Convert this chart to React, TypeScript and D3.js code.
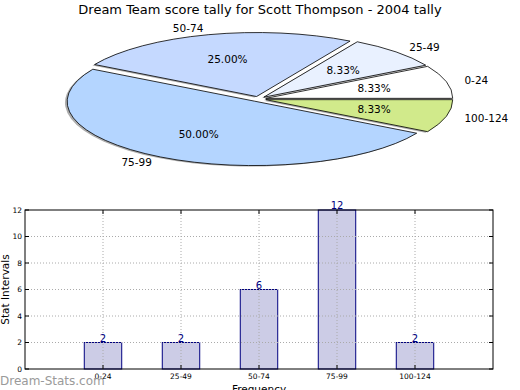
import React from 'react';
import * as d3 from 'd3';

const width = 520;
const height = 390;
const font = 'DejaVu Sans, sans-serif';

// data
const categories = ['0-24', '25-49', '50-74', '75-99', '100-124'];
const counts = [2, 2, 6, 12, 2];
const pieColors = ['#ffffff', '#e9f1ff', '#c5d9ff', '#b4d5ff', '#d1ea8b'];
const yTicks = [0, 2, 4, 6, 8, 10, 12];

// pie geometry
const cx = 258.5;
const cy = 99;
const rx = 187;
const ry = 64;
const explode = 0.04;

// bar chart frame
const margin = { top: 210, right: 27, bottom: 21, left: 25 };

const App = () => {
  const total = d3.sum(counts);
  const pie = d3.pie<number>()
    .sort(null)
    .startAngle(Math.PI / 2)
    .endAngle(Math.PI / 2 - 2 * Math.PI);
  const arcs = pie(counts);
  const arc = d3.arc<any>().innerRadius(0).outerRadius(1);

  const slices = arcs.map((a, i) => {
    const m = (a.startAngle + a.endAngle) / 2;
    const s = Math.sin(m);
    const c = Math.cos(m);
    const ox = rx * explode * s;
    const oy = -ry * explode * c;
    return {
      path: arc(a) as string,
      fill: pieColors[i],
      ox,
      oy,
      label: categories[i],
      lx: cx + ox + 1.1 * rx * s,
      ly: cy + oy - 1.1 * ry * c,
      anchor: s > 0 ? 'start' : 'end',
      px: cx + ox + 0.6 * rx * s,
      py: cy + oy - 0.6 * ry * c,
      pct: ((counts[i] / total) * 100).toFixed(2) + '%'
    };
  });

  const x = d3.scaleLinear()
    .domain([-1, 5])
    .range([margin.left, width - margin.right]);
  const y = d3.scaleLinear()
    .domain([0, 12])
    .range([height - margin.bottom, margin.top]);
  const barW = x(0.48) - x(0);

  return (
    <svg width={width} height={height} style={{ position: 'absolute', left: 0, top: 0, background: '#fff' }}>
      <text x={260} y={14} textAnchor="middle" fontFamily={font} fontSize={13}>
        Dream Team score tally for Scott Thompson - 2004 tally
      </text>

      {/* shadows */}
      {slices.map((d, i) => (
        <path
          key={'s' + i}
          d={d.path}
          transform={`translate(${cx + d.ox - 2.2},${cy + d.oy + 1})`+` scale(${rx},${ry})`}
          fill="#777"
          opacity={0.6}
        />
      ))}
      {slices.map((d, i) => (
        <path
          key={'w' + i}
          d={d.path}
          transform={`translate(${cx + d.ox},${cy + d.oy}) scale(${rx},${ry})`}
          fill={d.fill}
          stroke="#000"
          strokeWidth={0.8}
          vectorEffect="non-scaling-stroke"
        />
      ))}
      {slices.map((d, i) => (
        <g key={'l' + i} fontFamily={font} fontSize={10.5}>
          <text x={d.lx} y={d.ly} dy="0.35em" textAnchor={d.anchor}>{d.label}</text>
          <text x={d.px} y={d.py} dy="0.35em" textAnchor="middle">{d.pct}</text>
        </g>
      ))}

      {/* bar chart */}
      {counts.map((v, i) => (
        <rect
          key={'b' + i}
          x={x(i) - barW / 2}
          y={y(v)}
          width={barW}
          height={y(0) - y(v)}
          fill="#ccccE6"
          stroke="#000080"
          strokeWidth={1}
        />
      ))}
      {yTicks.slice(1, -1).map(t => (
        <line key={'gy' + t} x1={x(-1)} x2={x(5)} y1={y(t)} y2={y(t)} stroke="#aaa" strokeDasharray="1,2" />
      ))}
      {categories.map((c, i) => (
        <line key={'gx' + i} x1={x(i)} x2={x(i)} y1={y(0)} y2={y(12)} stroke="#aaa" strokeDasharray="1,2" />
      ))}
      <rect
        x={x(-1)}
        y={y(12)}
        width={x(5) - x(-1)}
        height={y(0) - y(12)}
        fill="none"
        stroke="#000"
        strokeWidth={1}
      />
      {yTicks.map(t => (
        <g key={'ty' + t}>
          <line x1={x(-1)} x2={x(-1) + 4} y1={y(t)} y2={y(t)} stroke="#000" />
          <line x1={x(5) - 4} x2={x(5)} y1={y(t)} y2={y(t)} stroke="#000" />
          <text x={x(-1) - 3} y={y(t)} dy="0.35em" textAnchor="end" fontFamily={font} fontSize={7.5}>{t}</text>
        </g>
      ))}
      {categories.map((c, i) => (
        <g key={'tx' + i}>
          <line x1={x(i)} x2={x(i)} y1={y(0)} y2={y(0) - 4} stroke="#000" />
          <line x1={x(i)} x2={x(i)} y1={y(12)} y2={y(12) + 4} stroke="#000" />
          <text x={x(i)} y={y(0) + 10} textAnchor="middle" fontFamily={font} fontSize={7.5}>{c}</text>
        </g>
      ))}
      {counts.map((v, i) => (
        <text key={'v' + i} x={x(i)} y={y(v) - 1} textAnchor="middle" fontFamily={font} fontSize={10} fill="#000080">
          {v}
        </text>
      ))}
      <text
        transform={`translate(9,${(y(0) + y(12)) / 2}) rotate(-90)`}
        textAnchor="middle"
        fontFamily={font}
        fontSize={10.5}
      >
        Stat Intervals
      </text>
      <text x={(x(-1) + x(5)) / 2} y={393} textAnchor="middle" fontFamily={font} fontSize={10.5}>
        Frequency
      </text>
      <text x={0} y={385} fontFamily={font} fontSize={12} fill="#9a9a9a">
        Dream-Stats.com
      </text>
    </svg>
  );
};

export default App;
